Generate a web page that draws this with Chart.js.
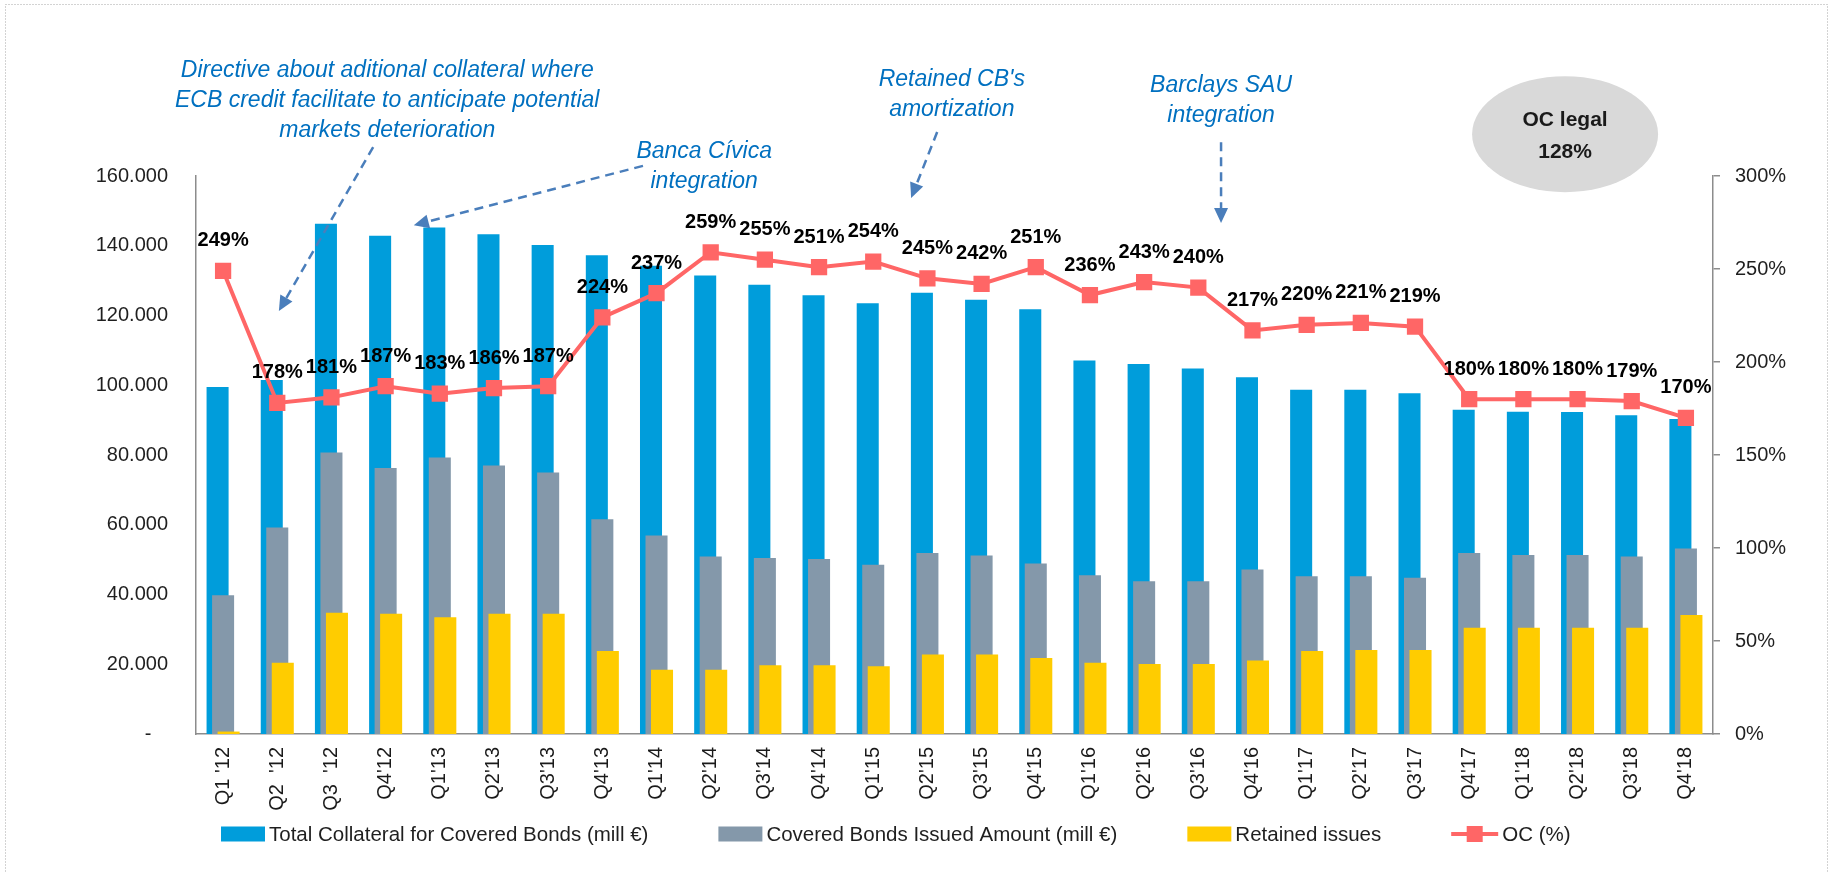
<!DOCTYPE html>
<html lang="en">
  <head>
    <meta charset="UTF-8" />
    <title>Covered Bonds - collateral and OC</title>
    <script src="https://cdn.jsdelivr.net/npm/chart.js"></script>
    <style>
      html,
      body {
        margin: 0;
        padding: 0;
        background: #ffffff;
      }
      #wrap {
        width: 1833px;
        height: 873px;
        position: relative;
      }
    </style>
  </head>
  <body>
    <div id="wrap"><canvas id="chart"></canvas></div>

    <script>
      // quarters on the x axis
      const quarters = [
        "Q1 '12", "Q2  '12", "Q3  '12", "Q4'12",
        "Q1'13", "Q2'13", "Q3'13", "Q4'13",
        "Q1'14", "Q2'14", "Q3'14", "Q4'14",
        "Q1'15", "Q2'15", "Q3'15", "Q4'15",
        "Q1'16", "Q2'16", "Q3'16", "Q4'16",
        "Q1'17", "Q2'17", "Q3'17", "Q4'17",
        "Q1'18", "Q2'18", "Q3'18", "Q4'18",
      ];

      // mill € (left axis)
      const totalCollateral = [
        99500, 101500, 146300, 142900, 145200, 143300, 140200, 137300,
        134300, 131500, 128800, 125800, 123500, 126500, 124500, 121800,
        107100, 106100, 104800, 102300, 98700, 98700, 97700, 93000,
        92400, 92300, 91400, 90300,
      ];
      const issuedAmount = [
        39800, 59200, 80700, 76300, 79300, 77000, 75000, 61600,
        56900, 50900, 50500, 50200, 48500, 51900, 51200, 48900,
        45500, 43800, 43800, 47200, 45200, 45200, 44800, 51900,
        51300, 51300, 50900, 53200,
      ];
      const retainedIssues = [
        700, 20400, 34800, 34500, 33500, 34500, 34500, 23800,
        18400, 18400, 19700, 19700, 19400, 22800, 22800, 21800,
        20400, 20100, 20100, 21100, 23800, 24100, 24100, 30500,
        30500, 30500, 30500, 34100,
      ];

      // OC in % (right axis)
      const ocPercent = [
        249, 178, 181, 187, 183, 186, 187, 224, 237, 259, 255, 251, 254, 245,
        242, 251, 236, 243, 240, 217, 220, 221, 219, 180, 180, 180, 179, 170,
      ];

      const leftMax = 160000;
      const leftStep = 20000;
      const rightMax = 300;
      const rightStep = 50;

      const FONT = "'Liberation Sans', Arial, sans-serif";
      const AXIS_GREY = "#8C8C8C";
      const BLUE = "#009DDB";
      const GREY = "#8498AA";
      const YELLOW = "#FFCC00";
      const RED = "#FF6666";
      const NOTE_BLUE = "#0070C0";
      const ARROW_BLUE = "#4A7EBB";

      Chart.defaults.font.family = FONT;
      Chart.defaults.font.size = 20;
      Chart.defaults.color = "#1f1f1f";

      function thousands(v) {
        if (v === 0) return "-   ";
        return String(v).replace(/\B(?=(\d{3})+(?!\d))/g, ".");
      }

      // % labels above every OC point
      const ocLabels = {
        id: "ocLabels",
        afterDatasetsDraw(chart) {
          const ctx = chart.ctx;
          const meta = chart.getDatasetMeta(0);
          ctx.save();
          ctx.font = "bold 20px " + FONT;
          ctx.fillStyle = "#000000";
          ctx.textAlign = "center";
          ctx.textBaseline = "middle";
          meta.data.forEach((pt, i) => {
            ctx.fillText(ocPercent[i] + "%", pt.x, pt.y - 30);
          });
          ctx.restore();
        },
      };

      // blue notes with dashed arrows, grey "OC legal" bubble
      // positions are given as (category index, left axis value)
      const notes = [
        {
          lines: [
            "Directive about aditional collateral where",
            "ECB credit facilitate to anticipate potential",
            "markets deterioration",
          ],
          at: [3.03, 190100],
          from: [2.77, 168300],
          to: [1.03, 121300],
        },
        {
          lines: ["Banca Cívica", "integration"],
          at: [8.88, 166900],
          from: [7.75, 162900],
          to: [3.52, 145900],
        },
        {
          lines: ["Retained CB's", "amortization"],
          at: [13.45, 187500],
          from: [13.18, 172600],
          to: [12.7, 153700],
        },
        {
          lines: ["Barclays SAU", "integration"],
          at: [18.42, 185800],
          from: [18.42, 169700],
          to: [18.42, 146500],
        },
      ];
      const bubble = { at: [24.77, 172000], lines: ["OC legal", "128%"] };

      function arrow(ctx, x1, y1, x2, y2) {
        const ang = Math.atan2(y2 - y1, x2 - x1);
        const head = 15;
        const bx = x2 - Math.cos(ang) * head;
        const by = y2 - Math.sin(ang) * head;
        ctx.save();
        ctx.strokeStyle = ARROW_BLUE;
        ctx.fillStyle = ARROW_BLUE;
        ctx.lineWidth = 2.5;
        ctx.setLineDash([9, 6]);
        ctx.beginPath();
        ctx.moveTo(x1, y1);
        ctx.lineTo(bx, by);
        ctx.stroke();
        ctx.setLineDash([]);
        ctx.beginPath();
        ctx.moveTo(x2, y2);
        ctx.lineTo(bx + Math.sin(ang) * 7, by - Math.cos(ang) * 7);
        ctx.lineTo(bx - Math.sin(ang) * 7, by + Math.cos(ang) * 7);
        ctx.closePath();
        ctx.fill();
        ctx.restore();
      }

      const annotations = {
        id: "annotations",
        afterDraw(chart) {
          const ctx = chart.ctx;
          const xs = chart.scales.x;
          const ys = chart.scales.y;
          const px = (i) => xs.getPixelForValue(i);
          const py = (v) => ys.getPixelForValue(v);

          ctx.save();
          ctx.textAlign = "center";
          ctx.textBaseline = "middle";
          ctx.font = "italic 23px " + FONT;
          ctx.fillStyle = NOTE_BLUE;
          notes.forEach((n) => {
            n.lines.forEach((t, k) => {
              ctx.fillText(t, px(n.at[0]), py(n.at[1]) + k * 30);
            });
            arrow(ctx, px(n.from[0]), py(n.from[1]), px(n.to[0]), py(n.to[1]));
          });

          const cx = px(bubble.at[0]);
          const cy = py(bubble.at[1]);
          ctx.fillStyle = "#D9D9D9";
          ctx.beginPath();
          ctx.ellipse(cx, cy, 93, 58, 0, 0, Math.PI * 2);
          ctx.fill();
          ctx.fillStyle = "#1a1a1a";
          ctx.font = "bold 21px " + FONT;
          ctx.fillText(bubble.lines[0], cx, cy - 14);
          ctx.fillText(bubble.lines[1], cx, cy + 18);

          // dotted frame round the whole chart
          ctx.strokeStyle = "#A6A6A6";
          ctx.lineWidth = 1;
          ctx.setLineDash([1, 2]);
          ctx.strokeRect(5.5, 4.5, chart.width - 11, chart.height + 20);
          ctx.restore();
        },
      };

      // legend drawn by hand: Excel style, wide gaps between entries
      const bottomLegend = {
        id: "bottomLegend",
        afterDraw(chart) {
          const ctx = chart.ctx;
          const sets = chart.data.datasets;
          const orderShown = [3, 2, 1, 0];
          let x = 221;
          const y = 834;
          ctx.save();
          ctx.font = "20.5px " + FONT;
          ctx.textBaseline = "middle";
          ctx.textAlign = "left";
          orderShown.forEach((di) => {
            const ds = sets[di];
            let w = 44;
            if (ds.type === "line") {
              w = 47;
              ctx.strokeStyle = ds.borderColor;
              ctx.lineWidth = 4;
              ctx.beginPath();
              ctx.moveTo(x, y);
              ctx.lineTo(x + w, y);
              ctx.stroke();
              ctx.fillStyle = ds.borderColor;
              ctx.fillRect(x + w / 2 - 8, y - 8, 16, 16);
            } else {
              ctx.fillStyle = ds.backgroundColor;
              ctx.fillRect(x, y - 7.5, w, 15);
            }
            ctx.fillStyle = "#1f1f1f";
            ctx.fillText(ds.label, x + w + 4, y + 1);
            x += w + 4 + ctx.measureText(ds.label).width + 70;
          });
          ctx.restore();
        },
      };

      const ctx = document.getElementById("chart").getContext("2d");

      // bars overlap like in Excel: narrow slots, wide bars.
      // negative percentages flip the slot direction so the first sorted
      // bar (yellow, drawn on top) ends up on the right
      const barOpts = {
        categoryPercentage: -0.305,
        barPercentage: -4.0,
        borderWidth: 0,
      };

      new Chart(ctx, {
        type: "bar",
        data: {
          labels: quarters,
          datasets: [
            {
              type: "line",
              label: "OC (%)",
              data: ocPercent,
              yAxisID: "y1",
              borderColor: RED,
              backgroundColor: RED,
              borderWidth: 4,
              pointStyle: "rect",
              pointRadius: 11.5,
              pointHoverRadius: 11.5,
              pointBorderWidth: 0,
              tension: 0,
              order: 0,
            },
            Object.assign(
              { label: "Retained issues", data: retainedIssues, backgroundColor: YELLOW, yAxisID: "y", order: 1 },
              barOpts
            ),
            Object.assign(
              { label: "Covered Bonds Issued Amount (mill €)", data: issuedAmount, backgroundColor: GREY, yAxisID: "y", order: 2 },
              barOpts
            ),
            Object.assign(
              { label: "Total Collateral for Covered Bonds (mill €)", data: totalCollateral, backgroundColor: BLUE, yAxisID: "y", order: 3 },
              barOpts
            ),
          ],
        },
        options: {
          responsive: true,
          maintainAspectRatio: false,
          animation: false,
          layout: { padding: { top: 176, left: 0, right: 0, bottom: 0 } },
          plugins: {
            legend: { display: false },
            tooltip: { enabled: false },
          },
          scales: {
            x: {
              grid: { display: false, drawTicks: false },
              border: { color: AXIS_GREY, width: 1.5 },
              ticks: {
                autoSkip: false,
                minRotation: 90,
                maxRotation: 90,
                padding: 13,
                color: "#1a1a1a",
              },
              afterFit: (s) => {
                s.height = 139;
              },
            },
            y: {
              position: "left",
              min: 0,
              max: leftMax,
              grid: { display: false, drawTicks: false },
              border: { color: AXIS_GREY, width: 1.5 },
              ticks: { stepSize: leftStep, padding: 28, callback: thousands },
              afterFit: (s) => {
                s.width = 196;
              },
            },
            y1: {
              position: "right",
              min: 0,
              max: rightMax,
              grid: {
                drawOnChartArea: false,
                drawTicks: true,
                tickLength: 7,
                color: AXIS_GREY,
                lineWidth: 1.5,
              },
              border: { color: AXIS_GREY, width: 1.5 },
              ticks: { stepSize: rightStep, padding: 15, callback: (v) => v + "%" },
              afterFit: (s) => {
                s.width = 120;
              },
            },
          },
        },
        plugins: [ocLabels, annotations, bottomLegend],
      });
    </script>
  </body>
</html>
